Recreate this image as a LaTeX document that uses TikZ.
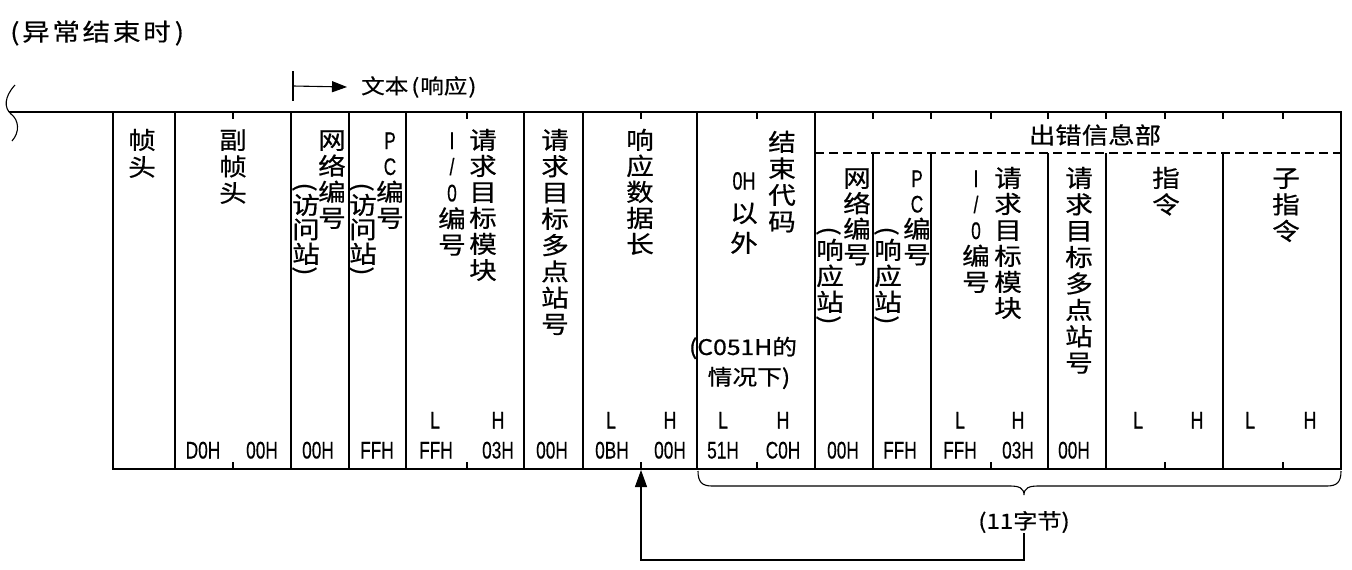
\documentclass[tikz,border=0pt]{standalone}
\usepackage{fontspec}
\setmainfont{Noto Sans CJK SC}
\newfontfamily\cjk[FakeStretch=1.15,FakeBold=0.6]{Noto Sans CJK SC}
\newfontfamily\cjkls[FakeStretch=1.15,FakeBold=0.6,LetterSpace=11]{Noto Sans CJK SC}
\newfontfamily\numf[FakeStretch=0.72,FakeBold=0.3]{Liberation Sans}
\newfontfamily\lhf[FakeStretch=0.74,FakeBold=1.2]{Liberation Sans}
\newcommand\lt[1]{{\numf\fontsize{24}{24}\selectfont #1}}
\usetikzlibrary{arrows.meta}
\tikzset{
  border/.style={line width=2.8pt},
  colline/.style={line width=1.3pt},
  thinline/.style={line width=1.1pt},
  ch/.style={inner sep=0pt, font=\cjk\fontsize{24}{24}\selectfont, text height=18pt, text depth=0pt},
  pr/.style={ch, rotate=-90},
  lh/.style={inner sep=0pt, font=\numf\fontsize{24}{24}\selectfont, text height=17pt, text depth=0pt},
  lhb/.style={lh, font=\lhf\fontsize{24}{24}\selectfont},
  lbl/.style={inner sep=0pt, font=\cjk\fontsize{23}{23}\selectfont},
  tip/.style={-{Triangle[length=15pt,width=11pt]}},
}
\newcommand\vstk[5]{% name, x, y0, pitch, list
  \foreach \c [count=\i from 0] in {#5}
    \node[ch] (#1-\i) at (#2, {#3+\i*#4}) {\c};
}
\begin{document}
\begin{tikzpicture}[x=1pt,y=-1pt]
\useasboundingbox (0,0) rectangle (1352,570);
% title
\node[lbl, anchor=west, font=\cjkls\fontsize{24}{24}\selectfont] (title) at (10,33) {(异常结束时\hspace{4pt})};
% text arrow
\coordinate (ta0) at (293,71);
\coordinate (ta1) at (293,101);
\coordinate (ta2) at (293,86);
\node[lbl, anchor=west, font=\cjk\fontsize{20.5}{20.5}\selectfont] (wenben) at (361,87) {文本\hspace{3pt}(\hspace{1pt}响应\hspace{1pt})};
\draw[thinline] (ta0) -- (ta1);
\draw[thinline, tip] (ta2) -- (wenben.west -| 347,0);
% left wave and line
\draw[thinline] (15,85) .. controls (4,97) and (4,108) .. (11,114) .. controls (19,120) and (20,132) .. (12,141);
\draw[thinline] (9,112) -- (113,112);
% box
\draw[border] (113,112) rectangle (1341,469);
\foreach \x in {175,291,349,406,524,583,697,815}
  \draw[colline] (\x,112) -- (\x,469);
\foreach \x in {873,931,1048,1106,1223}
  \draw[colline] (\x,153) -- (\x,469);
\draw[colline, dash pattern=on 9pt off 5pt] (815,153) -- (1341,153);
\foreach \x in {233,467,641,757,873,931,991,1048,1106,1165,1223,1283}
  \draw[thinline] (\x,112) -- (\x,119);
\foreach \x in {233,467,641,757,991,1165,1283}
  \draw[thinline] (\x,462) -- (\x,469);
% header texts
\node[lbl] (err) at (1095,135) {出错信息部};
\vstk{zt}{142}{140}{27}{帧,头}
\vstk{fzt}{233}{140}{26.5}{副,帧,头}
\vstk{wl1}{332}{140}{26}{网,络,编,号}
\node[pr] (pa1) at (306,187) {(};
\vstk{fw1}{306}{205}{24.5}{访,问,站}
\node[pr] (pb1) at (306,271) {)};
\vstk{pc1}{390}{140}{26}{\lt{P},\lt{C},编,号}
\node[pr] (pa2) at (363,187) {(};
\vstk{fw2}{363}{205}{24.5}{访,问,站}
\node[pr] (pb2) at (363,271) {)};
\vstk{io1}{452}{140}{26.2}{\lt{I},\lt{/},\lt{0},编,号}
\vstk{mk1}{483}{140}{26}{请,求,目,标,模,块}
\vstk{dd1}{555}{140}{26.3}{请,求,目,标,多,点,站,号}
\vstk{xy}{640}{140}{26}{响,应,数,据,长}
\vstk{jd}{782}{142}{26.5}{结,束,代,码}
\node[lh, font=\numf\fontsize{25}{25}\selectfont] (oh) at (744,181) {0H};
\node[ch] (yi) at (744,213) {以};
\node[ch] (wai) at (744,243) {外};
\node[lbl, font=\cjk\fontsize{21.5}{21.5}\selectfont] (c051a) at (743,348) {(C051H的};
\node[lbl, font=\cjk\fontsize{21.5}{21.5}\selectfont] (c051b) at (749,378) {情况下)};
% right part
\vstk{wl2}{857}{178}{25.5}{网,络,编,号}
\node[pr] (pa3) at (830,231) {(};
\vstk{xy3}{830}{250}{26}{响,应,站}
\node[pr] (pb3) at (830,320) {)};
\vstk{pc2}{917}{178}{25.5}{\lt{P},\lt{C},编,号}
\node[pr] (pa4) at (888,231) {(};
\vstk{xy4}{888}{250}{26}{响,应,站}
\node[pr] (pb4) at (888,320) {)};
\vstk{io2}{976}{178}{26}{\lt{I},\lt{/},\lt{0},编,号}
\vstk{mk2}{1008}{178}{26}{请,求,目,标,模,块}
\vstk{dd2}{1079}{178}{26.4}{请,求,目,标,多,点,站,号}
\vstk{zl}{1166}{178}{26.5}{指,令}
\vstk{zzl}{1286}{178}{26.5}{子,指,令}
% L / H row
\foreach \x/\t [count=\k] in {435/L,498/H,611/L,670/H,723/L,783/H,960/L,1018/H,1138/L,1197/H,1250/L,1310/H}
  \node[lhb] (lh\k) at (\x,420) {\t};
% values row
\foreach \x/\t [count=\k] in {203/D0H,262/00H,318/00H,377/FFH,436/FFH,498/03H,552/00H,612/0BH,670/00H,723/51H,783/C0H,843/00H,900/FFH,960/FFH,1018/03H,1074/00H}
  \node[lh] (v\k) at (\x,450) {\t};
% brace
\draw[thinline] (698,471) .. controls (698,482) and (702,486) .. (712,486) -- (1010,486) .. controls (1019,486) and (1024,488) .. (1024,495) .. controls (1024,488) and (1029,486) .. (1038,486) -- (1327,486) .. controls (1337,486) and (1341,482) .. (1341,471);
\node[lbl, font=\cjk\fontsize{21}{21}\selectfont] (t11) at (1024,522) {(11字节)};
\coordinate (ab) at (641,470);
\draw[thinline, -{Triangle[length=17pt,width=12pt]}] (t11.south) |- (641,560) -- (ab);
\end{tikzpicture}
\end{document}
